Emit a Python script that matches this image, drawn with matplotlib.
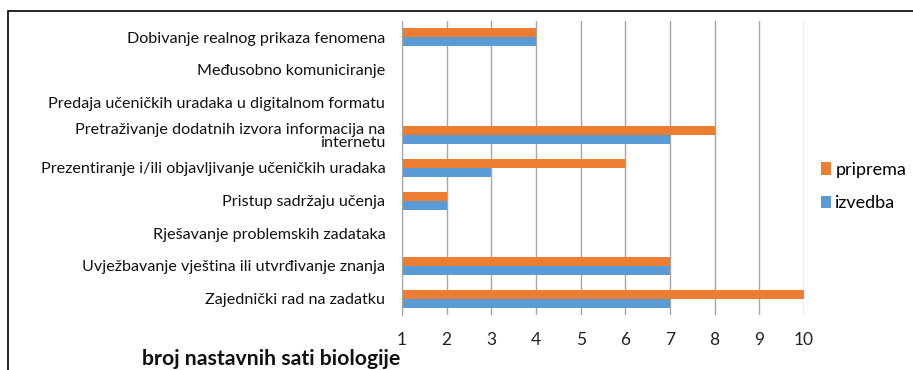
import matplotlib
matplotlib.use("Agg")
import matplotlib.pyplot as plt
from matplotlib.patches import Rectangle
import numpy as np

plt.rcParams['font.family'] = ['Lato', 'DejaVu Sans']

categories = [
    "Dobivanje realnog prikaza fenomena",
    "Međusobno komuniciranje",
    "Predaja učeničkih uradaka u digitalnom formatu",
    "Pretraživanje dodatnih izvora informacija na\ninternetu",
    "Prezentiranje i/ili objavljivanje učeničkih uradaka",
    "Pristup sadržaju učenja",
    "Rješavanje problemskih zadataka",
    "Uvježbavanje vještina ili utvrđivanje znanja",
    "Zajednički rad na zadatku",
]
priprema = [4, 1, 1, 8, 6, 2, 1, 7, 10]
izvedba = [4, 1, 1, 7, 3, 2, 1, 7, 7]
x_ticks = [1, 2, 3, 4, 5, 6, 7, 8, 9, 10]

W, H = 913, 370
fig = plt.figure(figsize=(W / 100, H / 100), dpi=100)

# outer chart frame
fig.patches.append(Rectangle((8 / W, -0.1), 1.2, (H - 11) / H + 0.1,
                             transform=fig.transFigure, fill=False,
                             edgecolor='#000000', linewidth=1.2))

ax = fig.add_axes([402 / W, (H - 315) / H, (804 - 402) / W, (315 - 21) / H])

n = len(categories)
y = np.arange(n)
h = 0.28
ax.barh(y - h / 2, priprema, height=h, color='#ED7D31', label='priprema')
ax.barh(y + h / 2, izvedba, height=h, color='#5B9BD5', label='izvedba')

ax.set_xlim(1, 10)
ax.set_ylim(n - 0.5, -0.5)
ax.set_xticks(x_ticks)
ax.set_xticklabels([str(t) for t in x_ticks], fontsize=12.5, color='#222222')
ax.set_yticks(y)
ax.set_yticklabels(categories, fontsize=11.6, color='#111111', linespacing=0.9)
ax.tick_params(axis='both', length=0)
ax.tick_params(axis='x', pad=12)
ax.tick_params(axis='y', pad=12)

ax.grid(axis='x', color='#A6A6A6', linewidth=1)
ax.set_axisbelow(True)
for s in ['top', 'right', 'bottom']:
    ax.spines[s].set_visible(False)
ax.spines['left'].set_color('#A6A6A6')

fig.text(271 / W, 1 - 359 / H, "broj nastavnih sati biologije", ha='center',
         va='center', fontsize=15.3, fontweight='bold', color='#111111')

ax.legend(loc='upper left', bbox_to_anchor=(821 / W, 1 - 162 / H),
          bbox_transform=fig.transFigure, frameon=False, fontsize=13,
          handlelength=0.55, handleheight=0.7, handletextpad=0.25,
          labelspacing=0.95, borderpad=0, borderaxespad=0)

fig.savefig("out.png", dpi=100)
